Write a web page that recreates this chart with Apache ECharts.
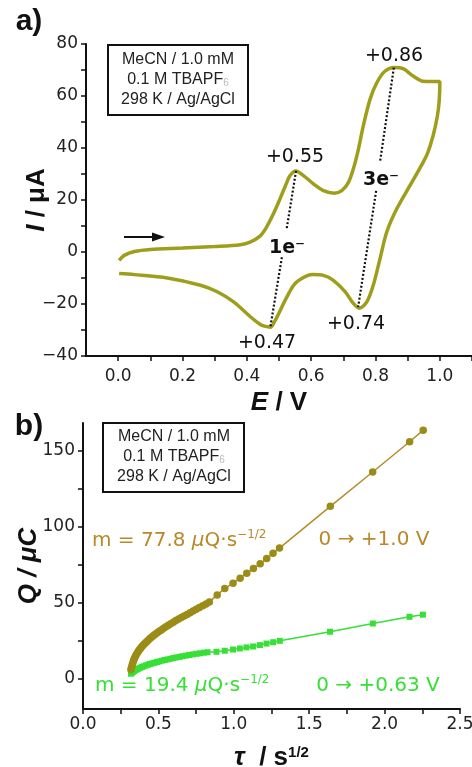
<!DOCTYPE html>
<html><head><meta charset="utf-8">
<script src="https://cdn.jsdelivr.net/npm/echarts@6/dist/echarts.min.js"></script>
<style>html,body{margin:0;padding:0;background:#fff}#c{width:472px;height:767px}</style>
</head><body><div id="c"></div>
<script>
// ---------- Panel a: cyclic voltammogram (E / V, I / µA) ----------
const cvE = [0.003,0.019,0.05,0.10,0.20,0.30,0.38,0.41,0.44,0.46,0.48,0.50,0.52,0.535,0.553,0.576,0.607,0.638,0.672,0.695,0.716,0.731,0.747,0.762,0.783,0.804,0.830,0.860,0.886,0.917,0.948,0.975,1.0,
             1.0,0.998,0.992,0.979,0.962,0.948,0.907,0.866,0.835,0.814,0.793,0.773,0.750,0.731,0.706,0.669,0.638,0.605,0.590,0.560,0.545,0.530,0.514,0.500,0.487,0.473,0.455,0.442,0.411,0.359,0.308,0.256,0.153,0.05,0.003];
const cvI = [-3.2,-1.3,0.2,1.0,1.5,2.1,2.8,3.8,6.0,9.3,14.0,19.5,25.5,29.5,31.2,29.4,26.2,23.6,22.6,23.6,26.8,31.9,39.6,48.5,58.7,65.1,69.6,71.0,70.5,67.7,65.7,65.6,65.6,
             65.0,58.0,52.0,44.7,38.0,34.5,25.5,16.6,7.7,-2.6,-12.8,-19.2,-21.6,-19.8,-15.3,-10.9,-9.0,-8.7,-9.0,-11.0,-12.9,-16.0,-19.8,-23.5,-26.6,-28.9,-28.5,-27.9,-24.9,-19.2,-15.3,-12.8,-10.0,-8.7,-8.3];
// dotted peak-to-peak guides (null = gap for the 1e-/3e- labels)
const guide1E = [0.553,0.524,null,0.509,0.473];
const guide1I = [31.2,9.0,null,-2.0,-28.9];
const guide3E = [0.857,0.814,null,0.802,0.746];
const guide3I = [70.9,34.6,null,23.5,-21.2];
const peakLabels = ['+0.55','+0.47','+0.86','+0.74'];
const eTicks = [0,0.1,0.2,0.3,0.4,0.5,0.6,0.7,0.8,0.9,1.0,1.1];
const eLabels = [0,0.2,0.4,0.6,0.8,1.0];

// ---------- Panel b: Anson plot (tau / s^1/2, Q / µC) ----------
const tauA = [0.318,0.322,0.326,0.330,0.335,0.340,0.346,0.352,0.359,0.366,0.374,0.382,0.391,0.400,0.410,0.420,0.431,0.442,0.454,0.466,0.479,0.492,0.506,0.520,0.535,0.550,0.566,0.582,0.599,0.616,0.634,0.652,0.671,0.690,0.710,0.730,0.751,0.772,0.794,0.816,0.838,
              0.890,0.940,0.995,1.042,1.086,1.130,1.175,1.218,1.260,1.303,1.640,1.921,2.166,2.256];
const qA   = [6.0,7.5,9.0,10.3,11.7,13.0,14.3,15.5,16.7,17.8,18.9,20.0,21.1,22.1,23.1,24.1,25.1,26.1,27.1,28.1,29.1,30.1,31.1,32.0,33.0,34.0,35.0,36.0,37.0,38.1,39.1,40.1,41.2,42.2,43.3,44.4,45.5,46.7,47.9,49.1,50.4,
              55.0,59.2,62.7,66.0,69.3,72.3,75.5,78.9,82.3,85.8,113.2,135.8,155.7,163.3];
const tauB = [0.318,0.324,0.331,0.339,0.348,0.358,0.368,0.379,0.391,0.403,0.416,0.430,0.444,0.459,0.474,0.490,0.507,0.524,0.542,0.560,0.579,0.599,0.619,0.640,0.661,0.683,0.705,0.728,0.752,0.776,0.801,0.826,
              0.885,0.940,0.995,1.040,1.084,1.128,1.173,1.217,1.261,1.305,1.638,1.922,2.165,2.254];
const qB   = [3.2,3.8,4.4,5.0,5.6,6.1,6.6,7.1,7.6,8.1,8.6,9.1,9.6,10.0,10.4,10.9,11.3,11.8,12.2,12.6,13.0,13.5,13.9,14.3,14.7,15.1,15.5,15.9,16.3,16.6,17.0,17.3,
              17.6,18.3,19.1,19.8,20.5,21.1,22.0,23.0,23.9,24.8,30.8,36.2,40.6,42.0];
const qLabelVals = [0,50,100,150];
const qTickVals = [0,25,50,75,100,125,150];

const pairs = (a,b) => a.map((v,i)=> v===null ? [null,null] : [v,b[i]]);
const minus = v => v < 0 ? '\u2212' + Math.abs(v) : String(v);

const TICKF = 'DejaVu Sans';
const SANS = 'Liberation Sans';
const INK = '#111';
const BROWN_TXT = '#b8892a', BROWN_DOT = '#9a8c16', BROWN_LINE = '#b38b2b';
const GREEN = '#36e036';

const axisLineS = {show:true, onZero:false, lineStyle:{color:INK, width:2}};
const tickLabel = (extra) => Object.assign({fontFamily:TICKF, fontSize:17, color:'#222'}, extra);
const titleStyle = {fontFamily:SANS, fontSize:26, fontWeight:'bold', color:INK,
  rich:{
    i:{fontFamily:SANS, fontSize:26, fontWeight:'bold', fontStyle:'italic', color:INK},
    n:{fontFamily:SANS, fontSize:26, fontWeight:'bold', color:INK},
    sup:{fontFamily:SANS, fontSize:15, fontWeight:'bold', color:INK, verticalAlign:'top', lineHeight:14}
  }};

function boxGroup(x, y, w, h, cx, lines){
  const els = [{type:'rect', shape:{x:x, y:y, width:w, height:h}, style:{fill:'#fff', stroke:INK, lineWidth:2}}];
  lines.forEach(l => els.push({type:'text', x:cx, y:l.y, style:{text:l.t, font:'16px "Liberation Sans"', fill:'#222', align:'center', verticalAlign:'middle',
     rich:{s:{fontFamily:SANS, fontSize:10, fill:'#bbb', verticalAlign:'bottom', lineHeight:10}, n:{fontFamily:SANS, fontSize:16, fill:'#222'}}}}));
  return {type:'group', children:els};
}
const annot = (x,y,t,opt) => ({type:'text', x:x, y:y, style:Object.assign({text:t, font:'19px "DejaVu Sans"', fill:INK, align:'center', verticalAlign:'middle'}, opt||{})});
const mText = (x,y,num,col) => ({type:'text', x:x, y:y, style:{
  text:'{n|m = '+num+' }{i|\u03bc}{n|Q\u00b7s}{sup|\u22121/2}', align:'left', verticalAlign:'middle', fill:col,
  rich:{
    n:{fontFamily:TICKF, fontSize:20, fill:col, lineHeight:24},
    i:{fontFamily:TICKF, fontSize:20, fontStyle:'italic', fill:col, lineHeight:24},
    sup:{fontFamily:TICKF, fontSize:12, fill:col, verticalAlign:'top', lineHeight:12}
  }}});

const chart = echarts.init(document.getElementById('c'), null, {renderer:'canvas'});
chart.setOption({
  animation:false,
  backgroundColor:'#fff',
  grid:[
    {left:86, top:44, width:386, height:312, containLabel:false, outerBoundsMode:'none'},
    {left:83, top:423, width:377, height:286, containLabel:false, outerBoundsMode:'none'}
  ],
  xAxis:[
    {gridIndex:0, type:'value', min:-0.1, max:1.1, axisLine:axisLineS, splitLine:{show:false},
     axisTick:{show:true, customValues:eTicks, length:5, lineStyle:{color:INK, width:1.5}},
     axisLabel:tickLabel({customValues:eLabels, margin:12, formatter:v=>v.toFixed(1)}),
     name:'{i|E} {n|/ V}', nameLocation:'middle', nameGap:34, nameMoveOverlap:false, nameTextStyle:titleStyle},
    {gridIndex:1, type:'value', min:0, max:2.5, interval:0.5, axisLine:axisLineS, splitLine:{show:false},
     axisTick:{show:true, length:5, lineStyle:{color:INK, width:1.5}},
     minorTick:{show:true, splitNumber:2, length:5, lineStyle:{color:INK, width:1.5}},
     axisLabel:tickLabel({margin:7, formatter:v=>v.toFixed(1), showMaxLabel:true}),
     name:'{i|\u03c4}  {n|/ s}{sup|1/2}', nameLocation:'middle', nameGap:36, nameMoveOverlap:false, nameTextStyle:titleStyle}
  ],
  yAxis:[
    {gridIndex:0, type:'value', min:-40, max:80, interval:20, axisLine:axisLineS, splitLine:{show:false},
     axisTick:{show:true, length:5, lineStyle:{color:INK, width:1.5}},
     minorTick:{show:true, splitNumber:2, length:5, lineStyle:{color:INK, width:1.5}},
     axisLabel:tickLabel({margin:8, formatter:minus}),
     name:'{i|I} {n|/ \u03bcA}', nameLocation:'middle', nameRotate:90, nameGap:36, nameMoveOverlap:false, nameTextStyle:titleStyle},
    {gridIndex:1, type:'value', min:-20, max:168, axisLine:axisLineS, splitLine:{show:false},
     axisTick:{show:true, customValues:qTickVals, length:5, lineStyle:{color:INK, width:1.5}},
     axisLabel:tickLabel({customValues:qLabelVals, margin:8}),
     name:'{i|Q / \u03bcC}', nameLocation:'middle', nameRotate:90, nameGap:41, nameMoveOverlap:false, nameTextStyle:titleStyle}
  ],
  series:[
    {type:'line', xAxisIndex:0, yAxisIndex:0, data:pairs(cvE,cvI), showSymbol:false, smooth:0.3,
     lineStyle:{color:'#9e9e1c', width:3.5}, z:3},
    {type:'line', xAxisIndex:0, yAxisIndex:0, data:pairs(guide1E,guide1I), showSymbol:false, connectNulls:false,
     lineStyle:{color:INK, width:2.2, type:[2,2]}, z:4},
    {type:'line', xAxisIndex:0, yAxisIndex:0, data:pairs(guide3E,guide3I), showSymbol:false, connectNulls:false,
     lineStyle:{color:INK, width:2.2, type:[2,2]}, z:4},
    {type:'line', xAxisIndex:1, yAxisIndex:1, data:pairs(tauB,qB), symbol:'rect', symbolSize:6, showAllSymbol:true,
     itemStyle:{color:GREEN}, lineStyle:{color:GREEN, width:1.5}, z:3},
    {type:'line', xAxisIndex:1, yAxisIndex:1, data:pairs(tauA,qA), symbol:'circle', symbolSize:7.5, showAllSymbol:true,
     itemStyle:{color:BROWN_DOT}, lineStyle:{color:BROWN_LINE, width:1.5}, z:4}
  ],
  graphic:[
    {type:'text', x:29, y:22, style:{text:'a)', font:'bold 30px "Liberation Sans"', fill:INK, align:'center', verticalAlign:'middle'}},
    {type:'text', x:29, y:427, style:{text:'b)', font:'bold 30px "Liberation Sans"', fill:INK, align:'center', verticalAlign:'middle'}},
    boxGroup(108, 45, 140, 70, 178, [{y:60,t:'MeCN / 1.0 mM'},{y:80,t:'{n|0.1 M TBAPF}{s|6}'},{y:100,t:'298 K / Ag/AgCl'}]),
    boxGroup(103, 423, 141, 69, 174, [{y:437,t:'MeCN / 1.0 mM'},{y:457,t:'{n|0.1 M TBAPF}{s|6}'},{y:477,t:'298 K / Ag/AgCl'}]),
    annot(295,157,peakLabels[0]), annot(267,343,peakLabels[1]), annot(394,56,peakLabels[2]), annot(356,324,peakLabels[3]),
    annot(287,248,'1e\u207b',{font:'bold 19px "DejaVu Sans"'}), annot(381,180,'3e\u207b',{font:'bold 19px "DejaVu Sans"'}),
    {type:'group', children:[
      {type:'line', shape:{x1:124,y1:237,x2:155,y2:237}, style:{stroke:INK, lineWidth:2}},
      {type:'polygon', shape:{points:[[152,232.5],[165,237],[152,241.5]]}, style:{fill:INK}}
    ]},
    mText(92,541,'77.8',BROWN_TXT),
    annot(374,540,'0 \u2192 +1.0 V',{font:'20px "DejaVu Sans"', fill:BROWN_TXT}),
    mText(95,686,'19.4',GREEN),
    annot(378,686,'0 \u2192 +0.63 V',{font:'20px "DejaVu Sans"', fill:GREEN})
  ]
});
</script></body></html>
